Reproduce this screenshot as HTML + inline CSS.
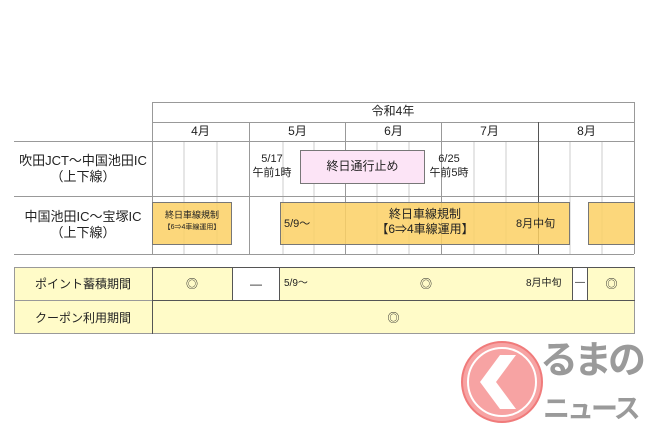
<!DOCTYPE html>
<html><head><meta charset="utf-8"><style>
body{margin:0;width:650px;height:433px;background:#fff;position:relative;overflow:hidden;font-family:"Liberation Sans","Noto Sans CJK JP",sans-serif;color:#222}
.a{position:absolute;box-sizing:border-box}
.t{position:absolute;white-space:nowrap;text-align:center;line-height:1.25}
</style></head><body>
<svg class="a" style="left:0;top:0" width="650" height="433">
 <g stroke="#ccc" stroke-width="1">
  <line x1="184" y1="141" x2="184" y2="254"/><line x1="217" y1="141" x2="217" y2="254"/>
  <line x1="283" y1="141" x2="283" y2="254"/><line x1="314" y1="141" x2="314" y2="254"/>
  <line x1="377" y1="141" x2="377" y2="254"/><line x1="409" y1="141" x2="409" y2="254"/>
  <line x1="474" y1="141" x2="474" y2="254"/><line x1="506" y1="141" x2="506" y2="254"/>
  <line x1="570" y1="141" x2="570" y2="254"/><line x1="602" y1="141" x2="602" y2="254"/>
 </g>
 <g stroke="#999" stroke-width="1">
  <line x1="152" y1="102.5" x2="634" y2="102.5"/>
  <line x1="152" y1="122.5" x2="634" y2="122.5"/>
  <line x1="14" y1="141.5" x2="634" y2="141.5"/>
  <line x1="14" y1="196.5" x2="634" y2="196.5"/>
  <line x1="14" y1="254.5" x2="634" y2="254.5"/>
  <line x1="152.5" y1="102" x2="152.5" y2="254"/>
  <line x1="249.5" y1="122" x2="249.5" y2="254"/>
  <line x1="345.5" y1="122" x2="345.5" y2="254"/>
  <line x1="441.5" y1="122" x2="441.5" y2="254"/>
  <line x1="634.5" y1="102" x2="634.5" y2="254"/>
 </g>
 <line x1="538.5" y1="122" x2="538.5" y2="254" stroke="#555"/>
</svg>
<div class="t" style="left:152px;width:482px;top:104px;font-size:12px">令和4年</div>
<div class="t" style="left:152px;width:97px;top:124px;font-size:12px">4月</div>
<div class="t" style="left:249px;width:97px;top:124px;font-size:12px">5月</div>
<div class="t" style="left:345px;width:97px;top:124px;font-size:12px">6月</div>
<div class="t" style="left:441px;width:97px;top:124px;font-size:12px">7月</div>
<div class="t" style="left:538px;width:97px;top:124px;font-size:12px">8月</div>
<div class="t" style="left:14px;width:138px;top:153px;font-size:13px">吹田JCT～中国池田IC<br>（上下線）</div>
<div class="t" style="left:14px;width:138px;top:209px;font-size:13px">中国池田IC～宝塚IC<br>（上下線）</div>
<div class="t" style="left:250px;width:44px;top:153px;font-size:11px">5/17<br>午前1時</div>
<div class="a" style="left:300px;top:150px;width:125px;height:34px;background:#fce4f6;border:1px solid #777"></div>
<div class="t" style="left:300px;width:125px;top:159px;font-size:12px">終日通行止め</div>
<div class="t" style="left:427px;width:44px;top:153px;font-size:11px">6/25<br>午前5時</div>
<div class="a" style="left:152px;top:202px;width:80px;height:43px;background:rgba(252,208,100,.85);border:1px solid #777"></div>
<div class="t" style="left:152px;width:80px;top:210px;font-size:9px">終日車線規制<br><span style="font-size:7px">【6⇒4車線運用】</span></div>
<div class="a" style="left:280px;top:202px;width:290px;height:43px;background:rgba(252,208,100,.85);border:1px solid #777"></div>
<div class="t" style="left:284px;top:218px;font-size:11px">5/9～</div>
<div class="t" style="left:360px;width:130px;top:207px;font-size:12px">終日車線規制<br>【6⇒4車線運用】</div>
<div class="t" style="left:516px;top:218px;font-size:11px">8月中旬</div>
<div class="a" style="left:588px;top:202px;width:47px;height:43px;background:rgba(252,208,100,.85);border:1px solid #777"></div>
<div class="a" style="left:14px;top:267px;width:621px;height:67px;background:#fffbc8;border:1px solid #999"></div>
<div class="a" style="left:14px;top:300px;width:621px;height:1px;background:#999"></div>
<div class="a" style="left:152px;top:267px;width:1px;height:67px;background:#555"></div>
<div class="a" style="left:232px;top:268px;width:48px;height:32px;background:#fff;border-left:1px solid #555;border-right:1px solid #555"></div>
<div class="a" style="left:572px;top:268px;width:16px;height:32px;background:#fff;border-left:1px solid #555;border-right:1px solid #555"></div>
<div class="a" style="left:152px;top:267px;width:483px;height:1px;background:#555"></div>
<div class="a" style="left:152px;top:300px;width:483px;height:1px;background:#555"></div>
<div class="t" style="left:14px;width:138px;top:277px;font-size:12px">ポイント蓄積期間</div>
<div class="t" style="left:14px;width:138px;top:311px;font-size:12px">クーポン利用期間</div>
<div class="t" style="left:152px;width:80px;top:277px;font-size:12px">◎</div>
<div class="t" style="left:232px;width:48px;top:277px;font-size:12px">―</div>
<div class="t" style="left:284px;top:278px;font-size:10px">5/9～</div>
<div class="t" style="left:280px;width:292px;top:277px;font-size:12px">◎</div>
<div class="t" style="left:526px;top:278px;font-size:10px">8月中旬</div>
<div class="t" style="left:572px;width:16px;top:277px;font-size:10px">―</div>
<div class="t" style="left:588px;width:47px;top:277px;font-size:12px">◎</div>
<div class="t" style="left:152px;width:483px;top:311px;font-size:12px">◎</div>
<svg class="a" style="left:460px;top:340px" width="90" height="90">
 <circle cx="42" cy="42" r="40" fill="#f7a3a3" stroke="#f07b7b" stroke-width="2"/>
 <circle cx="42" cy="42" r="34" fill="none" stroke="#fff" stroke-width="2"/>
 <polygon points="40,15 56,15 36,42 56,69 40,69 20,42" fill="#fff"/>
</svg>
<div class="t" style="left:540px;top:338px;font-size:38px;font-weight:bold;color:#9a9a9a;letter-spacing:-4px">るまの</div>
<div class="t" style="left:543px;top:393px;font-size:27px;font-weight:bold;color:#9a9a9a;letter-spacing:-3px">ニュース</div>
</body></html>
